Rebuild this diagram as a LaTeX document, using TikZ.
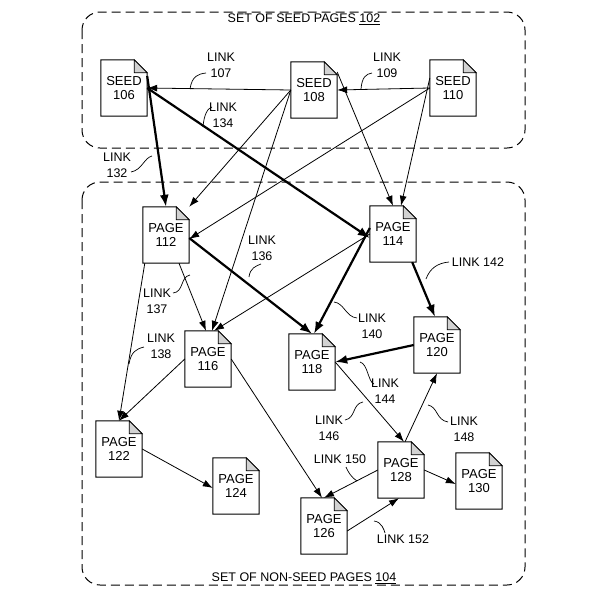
\documentclass[tikz,border=0pt]{standalone}
\usepackage{fontspec}
\setmainfont{Liberation Sans}
\usetikzlibrary{arrows.meta}
\newcommand\mydoc[4]{%
  \node[docbox] (#1) at (#2,#3) {};
  \draw[line width=1pt,fill=white] (#1.south west) -- (#1.north west) -- ([xshift=-13pt]#1.north east) -- ([yshift=-13pt]#1.north east) -- (#1.south east) -- cycle;
  \draw[line width=0.8pt,fill=gray!35] ([xshift=-13pt]#1.north east) -- ([xshift=-13pt,yshift=-13pt]#1.north east) -- ([yshift=-13pt]#1.north east) -- cycle;
  \node[align=center,font=\fontsize{13}{14.5}\selectfont] (#1t) at (#1.center) {#4};
}
\begin{document}
\begin{tikzpicture}[x=1pt,y=-1pt,
  docbox/.style={minimum width=46pt,minimum height=56pt,inner sep=0pt,draw=none},
  ln/.style={line width=0.8pt,-{Latex[length=10pt,width=7pt]}},
  tk/.style={line width=2.2pt,-{Latex[length=12pt,width=9pt]}},
  sq/.style={line width=0.7pt},
  lb/.style={align=center,font=\fontsize{12.5}{16}\selectfont,inner sep=1pt},
  region/.style={draw,line width=1pt,dash pattern=on 9pt off 5pt,rounded corners=18pt}]
\useasboundingbox (0,0) rectangle (600,600);
\draw[region] (82,12) rectangle (525,148);
\draw[region] (82,182) rectangle (525,585);
\node[lb,fill=white] (t1) at (304,19) {SET OF SEED PAGES \underline{102}};
\node[lb,fill=white] (t2) at (304,578) {SET OF NON-SEED PAGES \underline{104}};

\mydoc{s106}{124}{88}{SEED\\106}
\mydoc{s108}{314}{90}{SEED\\108}
\mydoc{s110}{453}{88}{SEED\\110}
\mydoc{p112}{166}{235}{PAGE\\112}
\mydoc{p114}{393}{234}{PAGE\\114}
\mydoc{p116}{208}{359}{PAGE\\116}
\mydoc{p118}{312}{362}{PAGE\\118}
\mydoc{p120}{437}{345}{PAGE\\120}
\mydoc{p122}{119}{449}{PAGE\\122}
\mydoc{p124}{236}{486}{PAGE\\124}
\mydoc{p126}{324}{526}{PAGE\\126}
\mydoc{p128}{401}{470}{PAGE\\128}
\mydoc{p130}{479}{481}{PAGE\\130}

% seed links
\draw[ln] (s108.west) -- (s106.east);
\draw[ln] (s110.west) -- (s108.east);
\draw[tk] ([yshift=12pt]s106.east) -- (p112.north);
\draw[tk] (s106.east) -- ([yshift=-4pt]p114.west);
\draw[ln] (s108.west) -- (p112.north east);
\draw[ln] (s108.west) -- ([xshift=4pt]p116.north);
\draw[ln] ([yshift=18pt]s108.east) -- (p114.north);
\draw[ln] (s110.west) -- ([yshift=-4pt]p112.east);
\draw[ln] ([yshift=10pt]s110.west) -- ([xshift=8pt]p114.north);
% page links
\draw[tk] ([yshift=-3pt]p112.east) -- (p118.north);
\draw[ln] ([xshift=13pt]p112.south) -- ([xshift=-2pt]p116.north);
\draw[ln] ([xshift=2pt]p112.south west) -- (p122.north);
\draw[ln] (p114.west) -- ([xshift=6pt]p116.north);
\draw[tk] ([yshift=6pt]p114.west) -- ([xshift=2pt]p118.north);
\draw[tk] ([xshift=-4pt]p114.south east) -- ([xshift=-2pt]p120.north);
\draw[tk] (p120.west) -- (p118.east);
\draw[ln] (p118.east) -- ([xshift=3pt]p128.north);
\draw[ln] ([xshift=4pt]p128.north) -- (p120.south);
\draw[ln] (p116.west) -- (p122.north);
\draw[ln] (p116.east) -- ([xshift=-2pt]p126.north);
\draw[ln] (p122.east) -- ([yshift=-2pt]p124.west);
\draw[ln] (p128.west) -- (p126.north);
\draw[ln] ([yshift=-5pt]p126.east) -- ([xshift=-2pt]p128.south);
\draw[ln] (p128.east) -- ([yshift=-3pt]p130.west);

% labels
\node[lb] (l107) at (221,65) {LINK\\107};
\draw[sq] (190,89) .. controls (192,76) and (198,74) .. (206,73);
\node[lb] (l109) at (387,65) {LINK\\109};
\draw[sq] (361,89) .. controls (362,77) and (366,74) .. (372,73);
\node[lb] (l134) at (223,115) {LINK\\134};
\draw[sq] (203,127) .. controls (204,114) and (208,108) .. (212,107);
\node[lb] (l132) at (117,165) {LINK\\132};
\draw[sq] (152,156) .. controls (144,158) and (142,170) .. (131,172);
\node[lb] (l136) at (262,248) {LINK\\136};
\draw[sq] (249,277) .. controls (250,268) and (256,266) .. (261,264);
\node[lb] (l137) at (157,301) {LINK\\137};
\draw[sq] (190,275) .. controls (180,277) and (184,292) .. (173,293);
\node[lb] (l138) at (161,346) {LINK\\138};
\draw[sq] (129,364) .. controls (131,352) and (136,349) .. (144,347);
\node[lb] (l140) at (372,326) {LINK\\140};
\draw[sq] (334,302) .. controls (344,303) and (346,317) .. (357,318);
\node[lb] (l142) at (478,262) {LINK 142};
\draw[sq] (426,279) .. controls (430,268) and (438,263) .. (449,262);
\node[lb] (l144) at (385,391) {LINK\\144};
\draw[sq] (360,362) .. controls (368,364) and (368,382) .. (374,384);
\node[lb] (l146) at (329,428) {LINK\\146};
\draw[sq] (363,402) .. controls (352,404) and (356,418) .. (345,420);
\node[lb] (l148) at (464,429) {LINK\\148};
\draw[sq] (428,405) .. controls (438,407) and (436,420) .. (448,422);
\node[lb] (l150) at (340,459) {LINK 150};
\draw[sq] (357,481) .. controls (352,478) and (348,472) .. (346,467);
\node[lb] (l152) at (403,539) {LINK 152};
\draw[sq] (374,521) .. controls (382,522) and (384,530) .. (385,533);
\end{tikzpicture}
\end{document}
